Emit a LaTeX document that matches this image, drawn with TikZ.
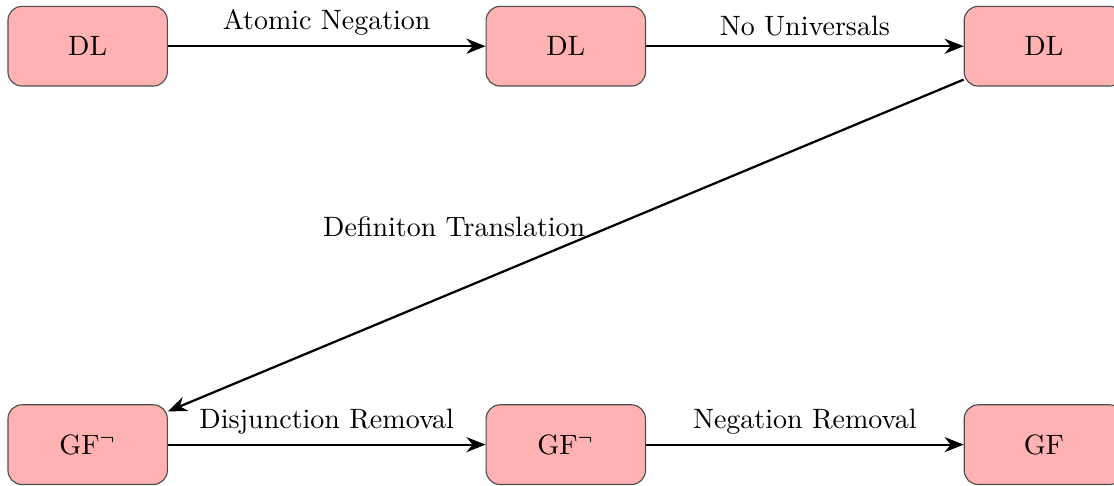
\documentclass[tikz,border=0pt]{standalone}
\usetikzlibrary{arrows.meta}
\begin{document}
\begin{tikzpicture}[
  box/.style={draw=black!70, fill=red!30, rounded corners=5pt, minimum width=2cm, minimum height=1cm, inner sep=2pt},
  conn/.style={thick, -{Stealth[length=2.4mm,width=1.9mm]}},
  lbl/.style={}
]
\useasboundingbox[clip] (-1.1,-0.51) rectangle (12.88,5.58);
\node[box] (a) at (0,5) {DL};
\node[box] (b) at (6,5) {DL};
\node[box] (c) at (12,5) {DL};
\node[box] (d) at (0,0) {GF$^\neg$};
\node[box] (e) at (6,0) {GF$^\neg$};
\node[box] (f) at (12,0) {GF};
\draw[conn] (a) -- node[lbl, above] {Atomic Negation} (b);
\draw[conn] (b) -- node[lbl, above] {No Universals} (c);
\draw[conn] (c) -- node[lbl, pos=0.5, xshift=-1.4cm, yshift=0.24cm] {Definiton Translation} (d);
\draw[conn] (d) -- node[lbl, above] {Disjunction Removal} (e);
\draw[conn] (e) -- node[lbl, above] {Negation Removal} (f);
\end{tikzpicture}
\end{document}
